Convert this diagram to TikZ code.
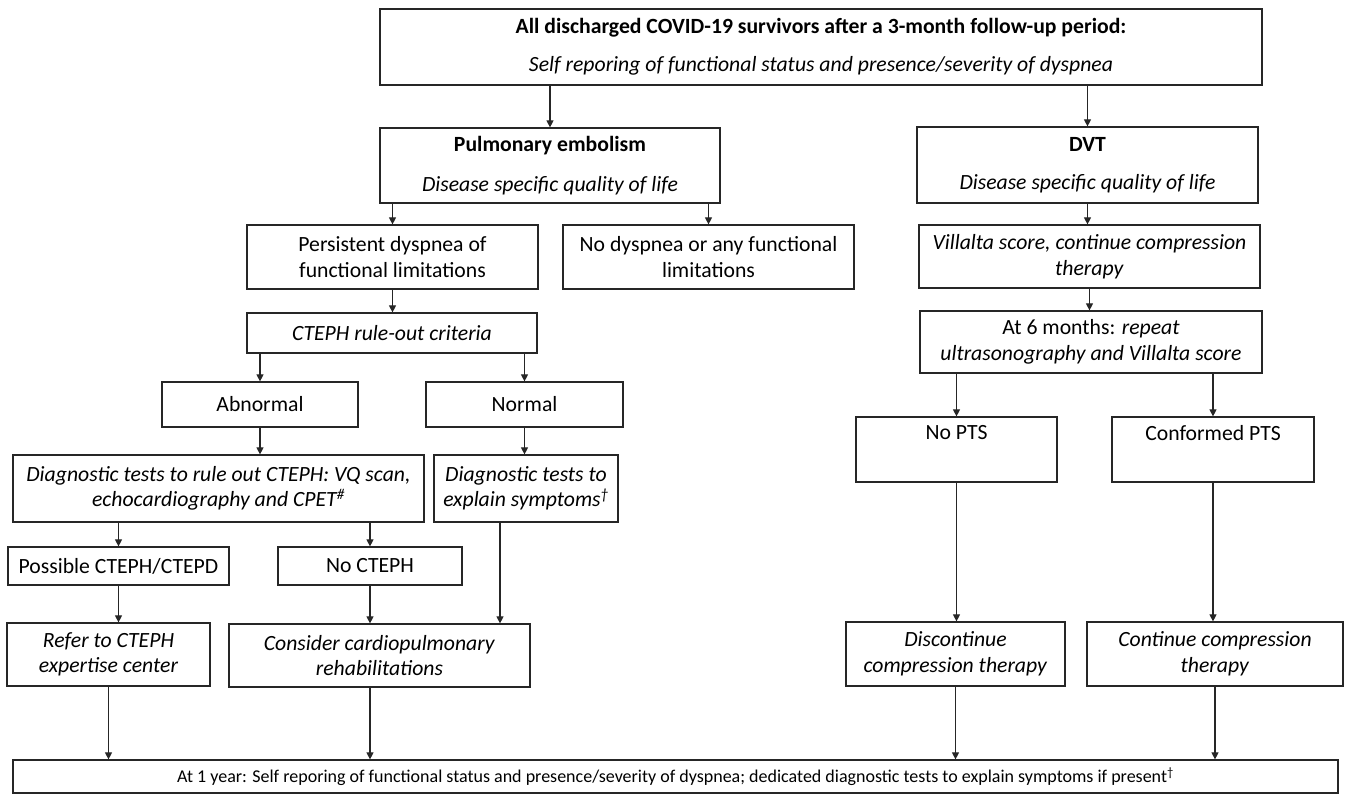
\documentclass[tikz,border=0pt]{standalone}
\usepackage{fontspec}
\setmainfont{Carlito}
\usetikzlibrary{arrows.meta}
\newcommand\fs{\fontsize{21.7}{25.5}\selectfont}
\newcommand\fsb{\fontsize{18}{24}\selectfont}
\begin{document}
\begin{tikzpicture}[x=1pt,y=-1pt,
  box/.style={draw=black!85,line width=1.2pt,inner sep=0pt,align=center,font=\fs},
  arr/.style={draw=black!85,line width=1.1pt,-{Triangle[length=7pt,width=7pt]}}]
\useasboundingbox (0,0) rectangle (1345,794);
% nodes
\node[box,minimum width=882pt,minimum height=76pt] (top) at (821,47)
  {\textbf{All discharged COVID-19 survivors after a 3-month follow-up period:}\\[13pt]\textit{Self reporing of functional status and presence/severity of dyspnea}};
\node[box,minimum width=340pt,minimum height=75pt] (pe) at (550,165.5)
  {\textbf{Pulmonary embolism}\\[14.5pt]\textit{Disease specific quality of life}};
\node[box,minimum width=341pt,minimum height=76pt] (dvt) at (1087.5,165)
  {\textbf{DVT}\\[12.5pt]\textit{Disease specific quality of life}};
\node[box,minimum width=291pt,minimum height=64pt] (pers) at (392.5,257)
  {Persistent dyspnea of\\functional limitations};
\node[box,minimum width=291pt,minimum height=64pt] (nodys) at (708.5,257)
  {No dyspnea or any functional\\limitations};
\node[box,minimum width=341pt,minimum height=63pt] (vill) at (1089.5,256.5)
  {\textit{Villalta score, continue compression}\\\textit{therapy}};
\node[box,minimum width=290pt,minimum height=40pt] (cteph) at (392,333)
  {\textit{CTEPH rule-out criteria}};
\node[box,minimum width=342pt,minimum height=62pt] (sixmo) at (1091,342)
  {At 6 months: \textit{repeat}\\\textit{ultrasonography and Villalta score}};
\node[box,minimum width=196pt,minimum height=45pt] (abn) at (260,404.5) {Abnormal};
\node[box,minimum width=197pt,minimum height=45pt] (norm) at (524.5,404.5) {Normal};
\node[box,minimum width=411pt,minimum height=67pt] (diag) at (218.5,488.5)
  {\textit{Diagnostic tests to rule out CTEPH: VQ scan,}\\\textit{echocardiography and CPET\textsuperscript{\#}}};
\node[box,minimum width=184pt,minimum height=67pt] (expl) at (526,488.5)
  {\textit{Diagnostic tests to}\\\textit{explain symptoms\textsuperscript{†}}};
\node[box,minimum width=201pt,minimum height=65pt] (nopts) at (956.5,449.5) {No PTS\\\strut};
\node[box,minimum width=202pt,minimum height=65pt] (conf) at (1213,449.5) {Conformed PTS\\\strut};
\node[box,minimum width=221pt,minimum height=38pt] (poss) at (118.5,566) {Possible CTEPH/CTEPD};
\node[box,minimum width=184pt,minimum height=38pt] (noc) at (370,566) {No CTEPH};
\node[box,minimum width=203pt,minimum height=63pt] (refer) at (108.5,654.5)
  {\textit{Refer to CTEPH}\\\textit{expertise center}};
\node[box,minimum width=301pt,minimum height=63pt] (consider) at (379.5,655.5)
  {\textit{Consider cardiopulmonary}\\\textit{rehabilitations}};
\node[box,minimum width=219pt,minimum height=64pt] (disc) at (955.5,654)
  {\textit{Discontinue}\\\textit{compression therapy}};
\node[box,minimum width=256pt,minimum height=64pt] (cont) at (1215,654)
  {\textit{Continue compression}\\\textit{therapy}};
\node[box,minimum width=1325pt,minimum height=33pt,font=\fsb] (bottom) at (675.5,776.5)
  {At 1 year: Self reporing of functional status and presence/severity of dyspnea; dedicated diagnostic tests to explain symptoms if present\textsuperscript{†}};
% connectors
\draw[arr] (top.south -| pe.north) -- (pe.north);
\draw[arr] (top.south -| dvt.north) -- (dvt.north);
\draw[arr] (pe.south -| pers.north) -- (pers.north);
\draw[arr] (pe.south -| nodys.north) -- (nodys.north);
\draw[arr] (dvt.south) -- (dvt.south |- vill.north);
\draw[arr] (vill.south) -- (vill.south |- sixmo.north);
\draw[arr] (pers.south) -- (pers.south |- cteph.north);
\draw[arr] (cteph.south -| abn.north) -- (abn.north);
\draw[arr] (cteph.south -| norm.north) -- (norm.north);
\draw[arr] (abn.south) -- (abn.south |- diag.north);
\draw[arr] (norm.south) -- (norm.south |- expl.north);
\draw[arr] (diag.south -| poss.north) -- (poss.north);
\draw[arr] (diag.south -| noc.north) -- (noc.north);
\draw[arr] (poss.south) -- (poss.south |- refer.north);
\draw[arr] (noc.south) -- (noc.south |- consider.north);
\draw[arr] ([xshift=-26pt]expl.south) -- ([xshift=-26pt]expl.south |- consider.north);
\draw[arr] (sixmo.south -| nopts.north) -- (nopts.north);
\draw[arr] (sixmo.south -| conf.north) -- (conf.north);
\draw[arr] (nopts.south) -- (nopts.south |- disc.north);
\draw[arr] (conf.south) -- (conf.south |- cont.north);
\draw[arr] (refer.south) -- (refer.south |- bottom.north);
\draw[arr] (consider.south -| noc.south) -- (noc.south |- bottom.north);
\draw[arr] (disc.south) -- (disc.south |- bottom.north);
\draw[arr] (cont.south) -- (cont.south |- bottom.north);
\end{tikzpicture}
\end{document}
